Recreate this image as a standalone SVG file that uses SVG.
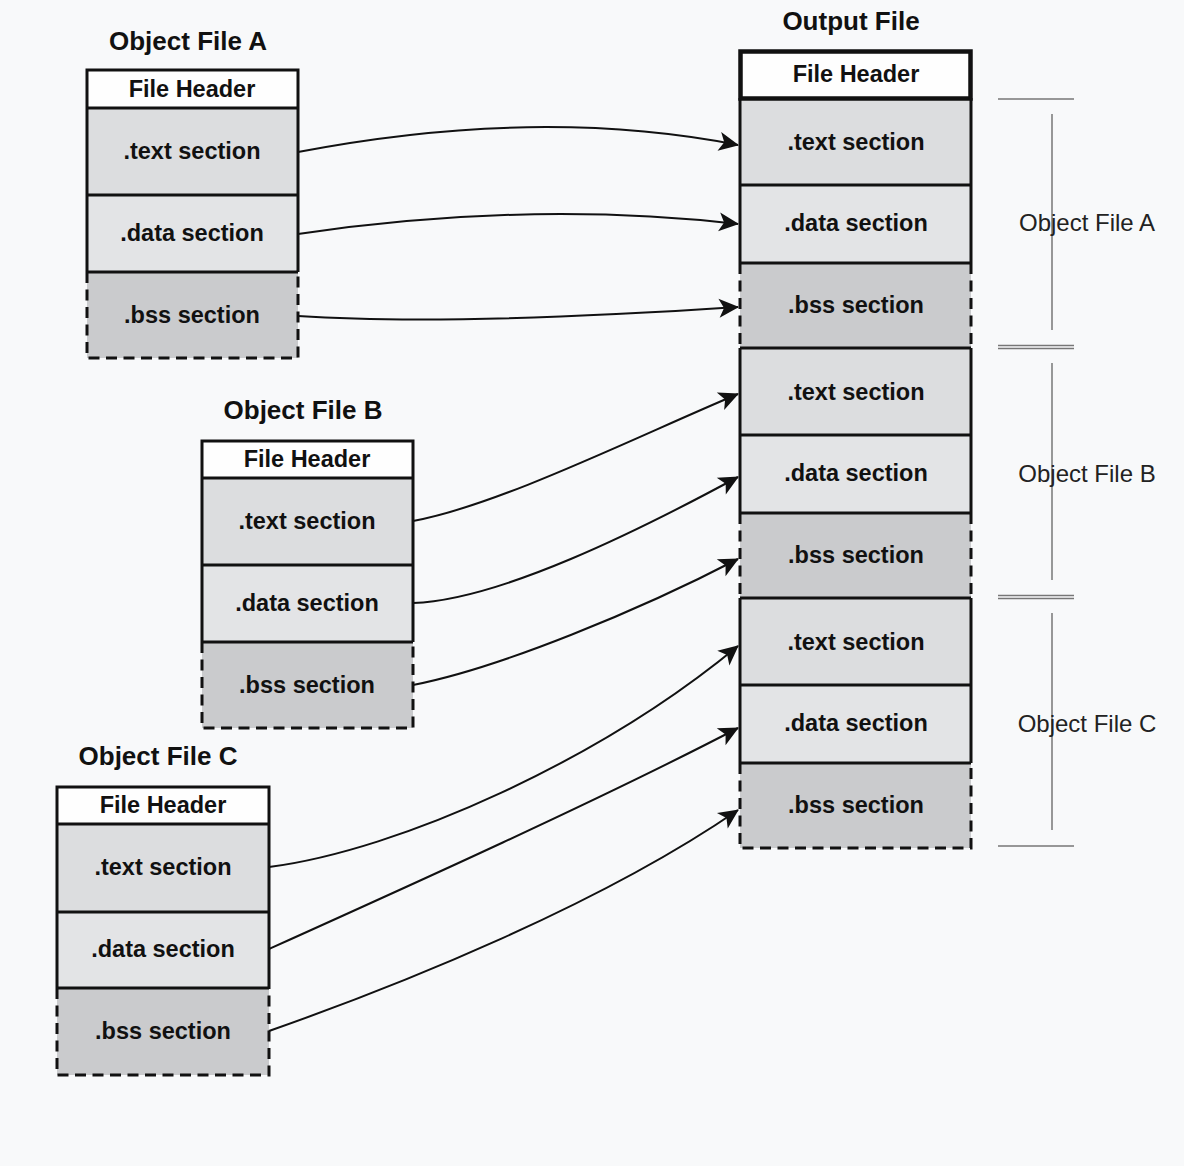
<svg xmlns="http://www.w3.org/2000/svg" width="1184" height="1166" viewBox="0 0 1184 1166">
  <defs>
    <style>
      .bg { fill: #f8f9fa; }
      .hdr { fill: #fefefe; }
      .txt { fill: #dcdddf; }
      .dat { fill: #e3e4e6; }
      .bss { fill: #cacbcd; }
      .edge { fill: none; stroke: #111; stroke-width: 3; }
      .thick { fill: none; stroke: #111; stroke-width: 4.5; }
      .dash { fill: none; stroke: #111; stroke-width: 3; stroke-dasharray: 11 6.5; }
      .title { font-family: "Liberation Sans", Arial, sans-serif; font-weight: bold; font-size: 26px; fill: #111; text-anchor: middle; }
      .lbl { font-family: "Liberation Sans", Arial, sans-serif; font-weight: bold; font-size: 23.5px; fill: #111; text-anchor: middle; }
      .note { font-family: "Liberation Sans", Arial, sans-serif; font-size: 24px; fill: #222; text-anchor: middle; }
      .conn { fill: none; stroke: #111; stroke-width: 2; marker-end: url(#arrow); }
      .brk { fill: none; stroke: #777; stroke-width: 1.5; }
    </style>
    <marker id="arrow" markerUnits="userSpaceOnUse" markerWidth="24" markerHeight="24" viewBox="-22 -12 24 24" refX="0" refY="0" orient="auto">
      <path d="M1,0 L-19,-9.5 L-14,0 L-19,9.5 Z" fill="#111"/>
    </marker>
  </defs>

  <rect class="bg" x="0" y="0" width="1184" height="1166"/>

  <!-- Object File A -->
  <g id="object-file-a">
    <text class="title" x="188" y="50">Object File A</text>
    <rect class="hdr" x="87" y="70" width="211" height="38"/>
    <rect class="txt" x="87" y="108" width="211" height="87"/>
    <rect class="dat" x="87" y="195" width="211" height="77"/>
    <rect class="bss" x="87" y="272" width="211" height="86"/>
    <path class="edge" d="M87,272 V70 H298 V272 M87,108 H298 M87,195 H298 M87,272 H298"/>
    <path class="dash" d="M87,272 V358 H298 V272"/>
    <text class="lbl" x="192" y="97">File Header</text>
    <text class="lbl" x="192" y="159">.text section</text>
    <text class="lbl" x="192" y="241">.data section</text>
    <text class="lbl" x="192" y="323">.bss section</text>
  </g>

  <!-- Object File B -->
  <g id="object-file-b">
    <text class="title" x="303" y="419">Object File B</text>
    <rect class="hdr" x="202" y="441" width="211" height="37"/>
    <rect class="txt" x="202" y="478" width="211" height="87"/>
    <rect class="dat" x="202" y="565" width="211" height="77"/>
    <rect class="bss" x="202" y="642" width="211" height="86"/>
    <path class="edge" d="M202,642 V441 H413 V642 M202,478 H413 M202,565 H413 M202,642 H413"/>
    <path class="dash" d="M202,642 V728 H413 V642"/>
    <text class="lbl" x="307" y="467">File Header</text>
    <text class="lbl" x="307" y="529">.text section</text>
    <text class="lbl" x="307" y="611">.data section</text>
    <text class="lbl" x="307" y="693">.bss section</text>
  </g>

  <!-- Object File C -->
  <g id="object-file-c">
    <text class="title" x="158" y="765">Object File C</text>
    <rect class="hdr" x="57" y="787" width="212" height="37"/>
    <rect class="txt" x="57" y="824" width="212" height="88"/>
    <rect class="dat" x="57" y="912" width="212" height="76"/>
    <rect class="bss" x="57" y="988" width="212" height="87"/>
    <path class="edge" d="M57,988 V787 H269 V988 M57,824 H269 M57,912 H269 M57,988 H269"/>
    <path class="dash" d="M57,988 V1075 H269 V988"/>
    <text class="lbl" x="163" y="813">File Header</text>
    <text class="lbl" x="163" y="875">.text section</text>
    <text class="lbl" x="163" y="957">.data section</text>
    <text class="lbl" x="163" y="1039">.bss section</text>
  </g>

  <!-- Output File -->
  <g id="output-file">
    <text class="title" x="851" y="30">Output File</text>
    <rect class="txt" x="740" y="98" width="231" height="87"/>
    <rect class="dat" x="740" y="185" width="231" height="78"/>
    <rect class="bss" x="740" y="263" width="231" height="85"/>
    <rect class="txt" x="740" y="348" width="231" height="87"/>
    <rect class="dat" x="740" y="435" width="231" height="78"/>
    <rect class="bss" x="740" y="513" width="231" height="85"/>
    <rect class="txt" x="740" y="598" width="231" height="87"/>
    <rect class="dat" x="740" y="685" width="231" height="78"/>
    <rect class="bss" x="740" y="763" width="231" height="85"/>
    <path class="edge" d="M740,98 V263 M971,98 V263 M740,348 V513 M971,348 V513 M740,598 V763 M971,598 V763
                          M740,185 H971 M740,263 H971 M740,348 H971 M740,435 H971 M740,513 H971
                          M740,598 H971 M740,685 H971 M740,763 H971"/>
    <path class="dash" d="M740,263 V348 M971,263 V348 M740,513 V598 M971,513 V598 M740,763 V848 H971 V763"/>
    <rect class="hdr" x="740.5" y="51.5" width="230" height="47"/>
    <rect class="thick" x="740.5" y="51.5" width="230" height="47"/>
    <text class="lbl" x="856" y="82">File Header</text>
    <text class="lbl" x="856" y="150">.text section</text>
    <text class="lbl" x="856" y="231">.data section</text>
    <text class="lbl" x="856" y="313">.bss section</text>
    <text class="lbl" x="856" y="400">.text section</text>
    <text class="lbl" x="856" y="481">.data section</text>
    <text class="lbl" x="856" y="563">.bss section</text>
    <text class="lbl" x="856" y="650">.text section</text>
    <text class="lbl" x="856" y="731">.data section</text>
    <text class="lbl" x="856" y="813">.bss section</text>
  </g>

  <!-- Brackets naming each part of the output file -->
  <g id="part-a">
    <path class="brk" d="M998,99 H1074 M1052,114 V330"/>
    <text class="note" x="1087" y="231">Object File A</text>
  </g>
  <path class="brk" d="M998,345.5 H1074 M998,348.5 H1074"/>
  <g id="part-b">
    <path class="brk" d="M1052,363 V580"/>
    <text class="note" x="1087" y="482">Object File B</text>
  </g>
  <path class="brk" d="M998,595.5 H1074 M998,598.5 H1074"/>
  <g id="part-c">
    <path class="brk" d="M1052,613 V830 M998,846 H1074"/>
    <text class="note" x="1087" y="732">Object File C</text>
  </g>

  <!-- Section placement arrows -->
  <g id="connectors">
    <path class="conn" d="M298,152 Q538,106 738,145"/>
    <path class="conn" d="M298,234 Q528,200 738,224"/>
    <path class="conn" d="M298,316 Q450,326 738,307"/>
    <path class="conn" d="M413,521 C500,505 640,435 738,394"/>
    <path class="conn" d="M413,603 C500,600 640,530 738,477"/>
    <path class="conn" d="M413,685 C500,668 640,610 738,559"/>
    <path class="conn" d="M269,867 C400,850 600,760 738,646"/>
    <path class="conn" d="M269,949 C400,890 600,800 738,728"/>
    <path class="conn" d="M269,1031 C400,985 600,905 738,810"/>
  </g>
</svg>
